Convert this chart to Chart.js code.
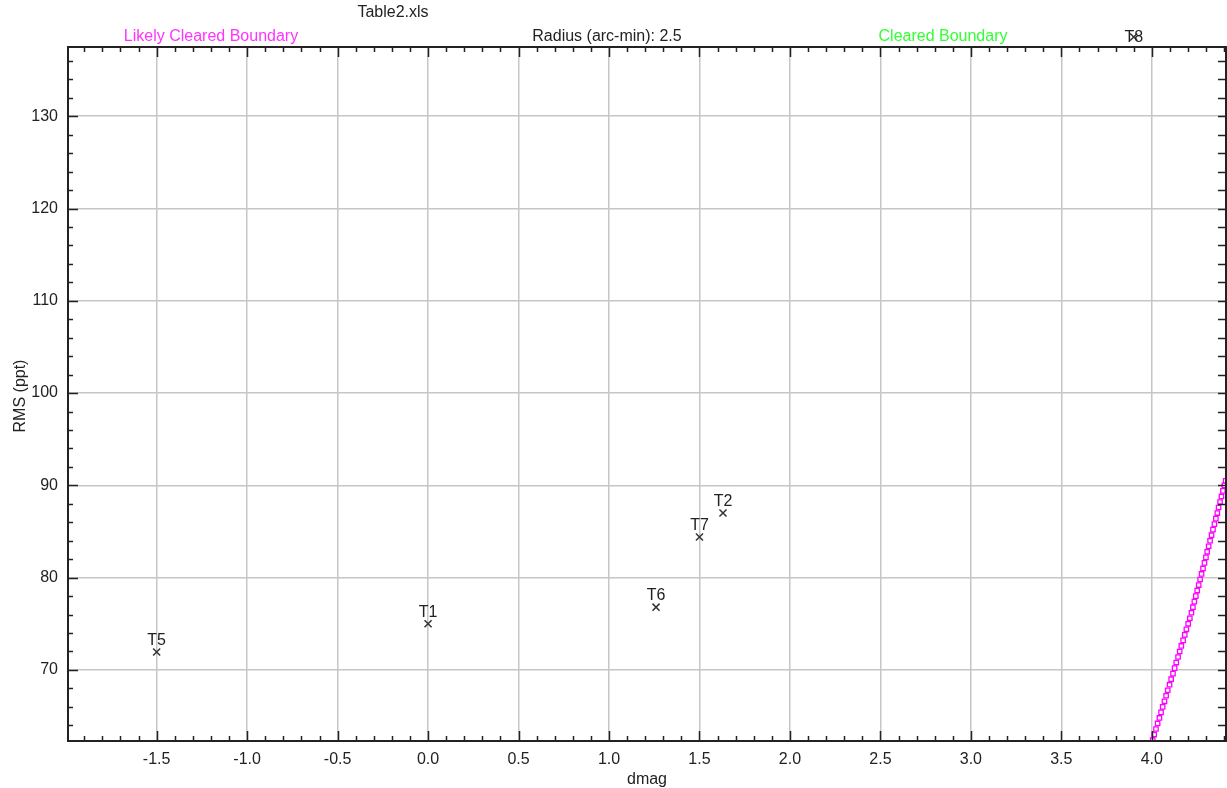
<!DOCTYPE html>
<html lang="en">
<head>
<meta charset="UTF-8">
<title>Table2.xls</title>
<style>
    html, body { margin: 0; padding: 0; background: #fff; }
    #wrap { width: 1227px; height: 788px; }
</style>
</head>
<body>
<div id="wrap"><canvas id="myChart" width="1227" height="788"></canvas></div>

<script src="https://cdn.jsdelivr.net/npm/chart.js@4/dist/chart.umd.min.js"></script>
<script>

// target stars
var starNames = ['T5', 'T1', 'T6', 'T7', 'T2', 'T8'];
var starDmag = [-1.5, 0.0, 1.26, 1.5, 1.63, 3.9];
var starRms = [71.95, 75.0, 76.8, 84.4, 87.0, 140];   // T8 sits above the plotted range

// likely cleared boundary (magenta markers)
var boundaryDmag = [4.005, 4.013, 4.023, 4.032, 4.042, 4.051, 4.060, 4.070, 4.079, 4.088,
    4.098, 4.107, 4.117, 4.126, 4.135, 4.145, 4.154, 4.163, 4.173, 4.182,
    4.191, 4.201, 4.210, 4.219, 4.227, 4.235, 4.243, 4.251, 4.259, 4.267,
    4.275, 4.283, 4.291, 4.299, 4.306, 4.314, 4.322, 4.330, 4.338, 4.346,
    4.354, 4.362, 4.369, 4.377, 4.385, 4.393, 4.401, 4.408];
var boundaryRms = [62.4, 63.0, 63.6, 64.2, 64.8, 65.4, 66.0, 66.6, 67.2, 67.8,
    68.4, 69.0, 69.6, 70.2, 70.8, 71.4, 72.0, 72.6, 73.2, 73.8,
    74.4, 75.0, 75.6, 76.2, 76.8, 77.4, 78.0, 78.6, 79.2, 79.8,
    80.4, 81.0, 81.6, 82.2, 82.8, 83.4, 84.0, 84.6, 85.2, 85.8,
    86.4, 87.0, 87.6, 88.2, 88.8, 89.4, 90.0, 90.5];

var xTickValues = [-1.5, -1.0, -0.5, 0.0, 0.5, 1.0, 1.5, 2.0, 2.5, 3.0, 3.5, 4.0];
var yTickValues = [70, 80, 90, 100, 110, 120, 130];

var xMin = -1.99, xMax = 4.41;
var yMin = 62.3, yMax = 137.5;
var xMinorStep = 0.1, yMinorStep = 2;

var FONT = '"Liberation Sans", Arial, sans-serif';
Chart.defaults.font.family = FONT;
Chart.defaults.font.size = 16;
Chart.defaults.color = '#222';

function pairs(xs, ys) {
    return xs.map(function (x, i) { return { x: x, y: ys[i] }; });
}

// frame, inward ticks, point labels and the header texts
var decorPlugin = {
    id: 'decor',
    afterDraw: function (chart) {
        var ctx = chart.ctx;
        var a = chart.chartArea;
        var xs = chart.scales.x, ys = chart.scales.y;
        ctx.save();

        ctx.strokeStyle = '#222';
        ctx.lineWidth = 2;
        ctx.strokeRect(a.left, a.top, a.right - a.left, a.bottom - a.top);

        ctx.lineWidth = 1.5;
        ctx.beginPath();
        var v, p, len;
        for (v = Math.ceil(xMin / xMinorStep) * xMinorStep; v <= xMax + 1e-9; v += xMinorStep) {
            p = Math.round(xs.getPixelForValue(v)) + 0.5;
            len = Math.abs(Math.round(v * 10) % 5) === 0 ? 10 : 5;
            ctx.moveTo(p, a.bottom); ctx.lineTo(p, a.bottom - len);
            ctx.moveTo(p, a.top); ctx.lineTo(p, a.top + len);
        }
        for (v = Math.ceil(yMin / yMinorStep) * yMinorStep; v <= yMax + 1e-9; v += yMinorStep) {
            p = Math.round(ys.getPixelForValue(v)) + 0.5;
            len = Math.round(v) % 10 === 0 ? 10 : 5;
            ctx.moveTo(a.left, p); ctx.lineTo(a.left + len, p);
            ctx.moveTo(a.right, p); ctx.lineTo(a.right - 8, p);
        }
        ctx.stroke();

        // star labels
        ctx.font = '16px ' + FONT;
        ctx.fillStyle = '#222';
        ctx.textAlign = 'center';
        ctx.textBaseline = 'alphabetic';
        starNames.forEach(function (name, i) {
            var px = xs.getPixelForValue(starDmag[i]);
            var py = ys.getPixelForValue(starRms[i]);
            if (py < a.top) {
                // off the top: marker and label squeezed together above the frame
                py = a.top - 10;
                ctx.strokeStyle = '#333';
                ctx.lineWidth = 1.5;
                ctx.beginPath();
                ctx.moveTo(px - 3.5, py - 3.5); ctx.lineTo(px + 3.5, py + 3.5);
                ctx.moveTo(px + 3.5, py - 3.5); ctx.lineTo(px - 3.5, py + 3.5);
                ctx.stroke();
                ctx.fillText(name, px, py + 5);
            } else {
                ctx.fillText(name, px, py - 7);
            }
        });

        // header texts
        ctx.fillStyle = '#222';
        ctx.fillText('Table2.xls', 393, 17);
        ctx.fillStyle = '#ff33ff';
        ctx.fillText('Likely Cleared Boundary', 211, 41);
        ctx.fillStyle = '#222';
        ctx.fillText('Radius (arc-min): 2.5', 607, 41);
        ctx.fillStyle = '#33ff33';
        ctx.fillText('Cleared Boundary', 943, 41);

        // axis titles
        ctx.fillStyle = '#222';
        ctx.fillText('dmag', (a.left + a.right) / 2, 784);
        ctx.translate(25, (a.top + a.bottom) / 2 + 2);
        ctx.rotate(-Math.PI / 2);
        ctx.fillText('RMS (ppt)', 0, 0);
        ctx.restore();
    }
};

var config = {
    type: 'scatter',
    data: {
        datasets: [{
            label: 'Likely Cleared Boundary',
            data: pairs(boundaryDmag, boundaryRms),
            pointStyle: 'rect',
            pointRadius: 3.1,
            borderColor: '#ff00ff',
            backgroundColor: '#ffffff',
            borderWidth: 1.3
        }, {
            label: 'Targets',
            data: pairs(starDmag, starRms),
            pointStyle: 'crossRot',
            pointRadius: 5,
            borderColor: '#333',
            borderWidth: 1.5
        }]
    },
    options: {
        responsive: false,
        animation: false,
        layout: {
            autoPadding: false,
            padding: { top: 47, right: 1, left: 0, bottom: 0 }
        },
        plugins: {
            legend: { display: false },
            tooltip: { enabled: false }
        },
        scales: {
            x: {
                type: 'linear',
                min: xMin,
                max: xMax,
                afterFit: function (s) {
                    s.height = 47;
                    s.paddingLeft = 0;
                    s.paddingRight = 0;
                },
                afterBuildTicks: function (s) {
                    s.ticks = xTickValues.map(function (v) { return { value: v }; });
                },
                ticks: {
                    padding: 9,
                    maxRotation: 0,
                    callback: function (v) { return Number(v).toFixed(1); }
                },
                grid: { color: '#c6c6c6', lineWidth: 1.5, drawTicks: false },
                border: { display: false }
            },
            y: {
                type: 'linear',
                min: yMin,
                max: yMax,
                afterFit: function (s) {
                    s.width = 68;
                    s.paddingTop = 0;
                    s.paddingBottom = 0;
                },
                afterBuildTicks: function (s) {
                    s.ticks = yTickValues.map(function (v) { return { value: v }; });
                },
                ticks: {
                    padding: 10,
                    callback: function (v) { return String(v); }
                },
                grid: { color: '#c6c6c6', lineWidth: 1.5, drawTicks: false },
                border: { display: false }
            }
        }
    },
    plugins: [decorPlugin]
};

var ctx = document.getElementById('myChart').getContext('2d');
var chart = new Chart(ctx, config);
</script>
</body>
</html>
